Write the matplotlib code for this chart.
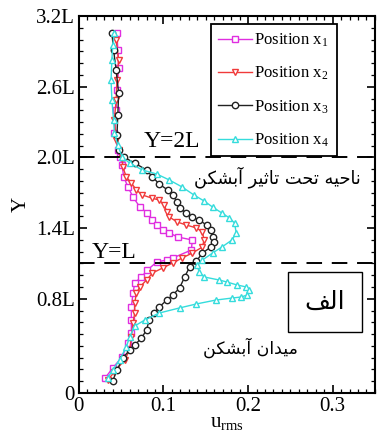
import numpy as np
import matplotlib
matplotlib.use('Agg')
import matplotlib.pyplot as plt
from matplotlib.ticker import MultipleLocator, FixedLocator, FixedFormatter
from matplotlib import font_manager, ft2font
from matplotlib.patches import Rectangle

plt.rcParams['font.family'] = ['Liberation Serif', 'DejaVu Sans']
plt.rcParams['mathtext.fontset'] = 'custom'
plt.rcParams['mathtext.rm'] = 'Liberation Serif'
plt.rcParams['mathtext.it'] = 'Liberation Serif:italic'

# ---------------- data ----------------
series_labels = ['Position x$_{\\mathrm{1}}$', 'Position x$_{\\mathrm{2}}$',
                 'Position x$_{\\mathrm{3}}$', 'Position x$_{\\mathrm{4}}$']

x1_u = [0.045, 0.046, 0.047, 0.045, 0.044, 0.042, 0.046, 0.049, 0.051, 0.053, 0.058, 0.064,
        0.072, 0.081, 0.087, 0.092, 0.099, 0.107, 0.117, 0.134, 0.133, 0.111, 0.104, 0.092,
        0.081, 0.074, 0.066, 0.064, 0.062, 0.062, 0.062, 0.058, 0.051, 0.040, 0.031]
x1_y = [3.056, 2.912, 2.759, 2.572, 2.402, 2.207, 2.063, 2.003, 1.935, 1.834, 1.749, 1.664,
        1.579, 1.528, 1.469, 1.426, 1.384, 1.358, 1.324, 1.299, 1.214, 1.146, 1.129, 1.112,
        1.044, 0.985, 0.934, 0.849, 0.730, 0.620, 0.509, 0.424, 0.306, 0.212, 0.127]

x2_u = [0.044, 0.047, 0.045, 0.044, 0.042, 0.044, 0.047, 0.051, 0.052, 0.056, 0.062, 0.068,
        0.075, 0.086, 0.095, 0.101, 0.104, 0.107, 0.116, 0.127, 0.139, 0.146, 0.148, 0.146,
        0.134, 0.122, 0.111, 0.099, 0.087, 0.080, 0.072, 0.068, 0.066, 0.066, 0.064, 0.062,
        0.060, 0.054, 0.042, 0.034]
x2_y = [2.997, 2.827, 2.657, 2.487, 2.317, 2.147, 2.063, 1.995, 1.918, 1.834, 1.783, 1.723,
        1.681, 1.655, 1.638, 1.596, 1.537, 1.494, 1.452, 1.426, 1.401, 1.367, 1.299, 1.239,
        1.188, 1.146, 1.104, 1.061, 1.019, 0.959, 0.900, 0.849, 0.764, 0.679, 0.594, 0.475,
        0.365, 0.280, 0.178, 0.110]

x3_u = [0.039, 0.041, 0.044, 0.047, 0.046, 0.045, 0.047, 0.053, 0.066, 0.080, 0.087, 0.095,
        0.105, 0.111, 0.116, 0.119, 0.127, 0.134, 0.142, 0.151, 0.156, 0.158, 0.160, 0.156,
        0.146, 0.139, 0.131, 0.125, 0.119, 0.111, 0.104, 0.095, 0.089, 0.083, 0.080, 0.074,
        0.066, 0.060, 0.052, 0.045, 0.040]
x3_y = [3.056, 2.912, 2.742, 2.547, 2.360, 2.190, 2.063, 2.003, 1.952, 1.893, 1.834, 1.774,
        1.723, 1.681, 1.621, 1.570, 1.528, 1.494, 1.469, 1.426, 1.384, 1.324, 1.282, 1.239,
        1.188, 1.120, 1.070, 0.985, 0.891, 0.832, 0.789, 0.730, 0.679, 0.620, 0.535, 0.467,
        0.407, 0.365, 0.297, 0.195, 0.102]

x4_u = [0.042, 0.040, 0.039, 0.038, 0.039, 0.041, 0.042, 0.046, 0.051, 0.060, 0.075, 0.092,
        0.107, 0.122, 0.136, 0.148, 0.158, 0.169, 0.178, 0.184, 0.186, 0.181, 0.169, 0.158,
        0.146, 0.140, 0.142, 0.148, 0.166, 0.175, 0.187, 0.198, 0.201, 0.199, 0.192, 0.181,
        0.162, 0.139, 0.119, 0.095, 0.078, 0.066, 0.060, 0.056, 0.048, 0.040, 0.034]
x4_y = [3.056, 2.954, 2.827, 2.657, 2.487, 2.317, 2.207, 2.105, 2.003, 1.952, 1.893, 1.859,
        1.808, 1.749, 1.681, 1.630, 1.579, 1.528, 1.486, 1.443, 1.358, 1.299, 1.239, 1.188,
        1.129, 1.087, 1.027, 0.985, 0.959, 0.942, 0.917, 0.900, 0.874, 0.832, 0.815, 0.806,
        0.789, 0.756, 0.722, 0.679, 0.620, 0.569, 0.475, 0.390, 0.280, 0.195, 0.127]

y_ticks = [0, 0.8, 1.4, 2.0, 2.6, 3.2]
y_ticklabels = ['0', '0.8L', '1.4L', '2.0L', '2.6L', '3.2L']
x_ticks = [0, 0.1, 0.2, 0.3]
x_ticklabels = ['0', '0.1', '0.2', '0.3']
ref_lines = [2.0, 1.1]
ref_labels = ['Y=2L', 'Y=L']
zone_upper = 'ناحیه تحت تاثیر آبشکن'
zone_lower = 'میدان آبشکن'
panel_label = 'الف'

# ------------- simple Arabic-script shaping (matplotlib has no shaping) -------------
ARABIC_FORMS = {
    'ا': (0xFE8D, 0xFE8E, None, None),
    'آ': (0xFE81, 0xFE82, None, None),
    'ب': (0xFE8F, 0xFE90, 0xFE91, 0xFE92),
    'ت': (0xFE95, 0xFE96, 0xFE97, 0xFE98),
    'ث': (0xFE99, 0xFE9A, 0xFE9B, 0xFE9C),
    'ح': (0xFEA1, 0xFEA2, 0xFEA3, 0xFEA4),
    'د': (0xFEA9, 0xFEAA, None, None),
    'ر': (0xFEAD, 0xFEAE, None, None),
    'ش': (0xFEB5, 0xFEB6, 0xFEB7, 0xFEB8),
    'ف': (0xFED1, 0xFED2, 0xFED3, 0xFED4),
    'ل': (0xFEDD, 0xFEDE, 0xFEDF, 0xFEE0),
    'م': (0xFEE1, 0xFEE2, 0xFEE3, 0xFEE4),
    'ن': (0xFEE5, 0xFEE6, 0xFEE7, 0xFEE8),
    'ه': (0xFEE9, 0xFEEA, 0xFEEB, 0xFEEC),
    'ی': (0xFBFC, 0xFBFD, 0xFBFE, 0xFBFF),
    'ک': (0xFB8E, 0xFB8F, 0xFB90, 0xFB91),
}
FALLBACK = {0xFBFC: 0xFEEF, 0xFBFD: 0xFEF0, 0xFBFE: 0xFEF3, 0xFBFF: 0xFEF4,
            0xFB8E: 0xFED9, 0xFB8F: 0xFEDA, 0xFB90: 0xFEDB, 0xFB91: 0xFEDC}

AR_FAMILY = 'DejaVu Sans'
_ar_path = font_manager.findfont(font_manager.FontProperties(family=AR_FAMILY))
_ar_ft = ft2font.FT2Font(_ar_path)


def shape(text):
    out = []
    n = len(text)
    for i, ch in enumerate(text):
        if ch not in ARABIC_FORMS:
            out.append(ch)
            continue
        prev = text[i - 1] if i > 0 else None
        nxt = text[i + 1] if i + 1 < n else None
        forms = ARABIC_FORMS[ch]
        join_prev = prev in ARABIC_FORMS and ARABIC_FORMS[prev][2] is not None
        join_next = forms[2] is not None and nxt in ARABIC_FORMS
        if join_prev and join_next:
            cp = forms[3]
        elif join_prev:
            cp = forms[1]
        elif join_next:
            cp = forms[2]
        else:
            cp = forms[0]
        if _ar_ft.get_char_index(cp) == 0:
            cp = FALLBACK.get(cp, cp)
        out.append(chr(cp))
    return ''.join(reversed(out))


# ---------------- figure ----------------
fig = plt.figure(figsize=(3.83, 4.34), dpi=100)
ax = fig.add_axes([0.206, 0.0945, 0.773, 0.8685])

styles = [
    dict(color='#E02EE0', marker='s', ms=4.8),
    dict(color='#F03A3A', marker='v', ms=5.0),
    dict(color='#222222', marker='o', ms=4.6),
    dict(color='#35DCDC', marker='^', ms=5.0),
]
data = [(x1_u, x1_y), (x2_u, x2_y), (x3_u, x3_y), (x4_u, x4_y)]
for (u, y), st, lab in zip(data, styles, series_labels):
    ax.plot(u, y, color=st['color'], lw=1.0, marker=st['marker'], ms=st['ms'],
            mfc='white', mec=st['color'], mew=1.0, label=lab)

for yv in ref_lines:
    ax.axhline(yv, color='black', lw=1.4, dashes=(8, 5), zorder=5)

ax.set_xlim(0, 0.35)
ax.set_ylim(0, 3.2)
ax.xaxis.set_major_locator(FixedLocator(x_ticks))
ax.xaxis.set_major_formatter(FixedFormatter(x_ticklabels))
ax.xaxis.set_minor_locator(MultipleLocator(0.01))
ax.yaxis.set_major_locator(FixedLocator(y_ticks))
ax.yaxis.set_major_formatter(FixedFormatter(y_ticklabels))
ax.yaxis.set_minor_locator(MultipleLocator(0.1))
ax.tick_params(which='both', direction='in', top=True, right=True, labelsize=15, pad=3)
ax.tick_params(which='major', length=6, width=1.2)
ax.tick_params(which='minor', length=3, width=0.9)
for sp in ax.spines.values():
    sp.set_linewidth(1.5)

ax.set_xlabel('u$_{\\mathrm{rms}}$', fontsize=15, labelpad=-2)
ax.set_ylabel('Y', fontsize=15, labelpad=4)

leg = ax.legend(loc='upper left', bbox_to_anchor=(0.446, 0.978), fontsize=12,
                frameon=True, fancybox=False, framealpha=1, edgecolor='black',
                handlelength=2.0, labelspacing=0.95, borderpad=0.45,
                handletextpad=0.15, borderaxespad=0)
leg.get_frame().set_linewidth(1.3)
leg.set_zorder(10)

ax.text(0.314, 0.668, ref_labels[0], transform=ax.transAxes, fontsize=17,
        ha='center', va='center', zorder=6)
ax.text(0.118, 0.374, ref_labels[1], transform=ax.transAxes, fontsize=17,
        ha='center', va='center', zorder=6)
ax.text(0.672, 0.573, shape(zone_upper), transform=ax.transAxes, fontsize=12.8,
        family=AR_FAMILY, ha='center', va='center', zorder=6)
ax.text(0.578, 0.119, shape(zone_lower), transform=ax.transAxes, fontsize=12.5,
        family=AR_FAMILY, ha='center', va='center', zorder=6)
ax.add_patch(Rectangle((0.706, 0.162), 0.25, 0.159, transform=ax.transAxes,
                       facecolor='white', edgecolor='black', lw=1.0, zorder=6))
ax.text(0.831, 0.241, shape(panel_label), transform=ax.transAxes, fontsize=18,
        family=AR_FAMILY, ha='center', va='center', zorder=7)

fig.savefig('out.png', dpi=100)
